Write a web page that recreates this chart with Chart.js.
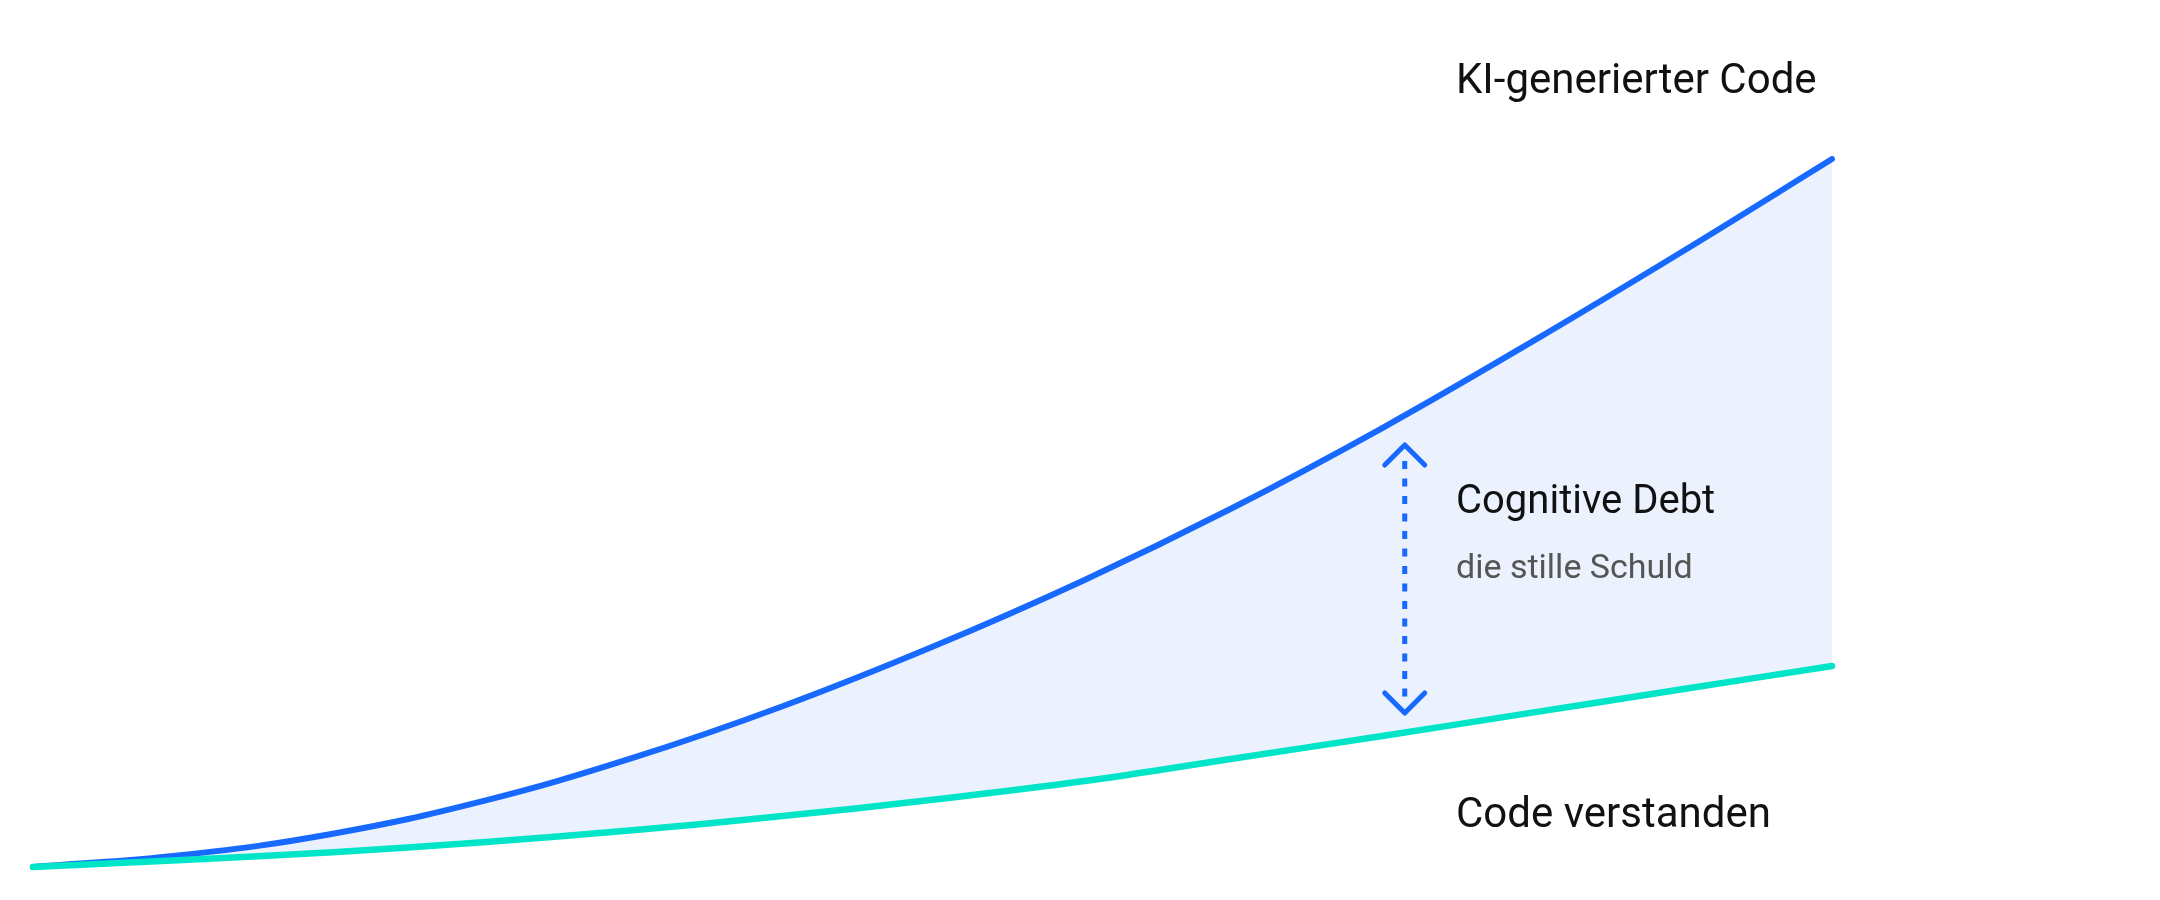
<!DOCTYPE html>
<html>
<head>
<meta charset="utf-8">
<script src="https://cdn.jsdelivr.net/npm/chart.js@4/dist/chart.umd.min.js"></script>
<style>
  html, body { margin: 0; padding: 0; background: #fff; }
  #wrap { width: 2160px; height: 900px; }
</style>
</head>
<body>
<div id="wrap"><canvas id="debtChart" width="2160" height="900"></canvas></div>
<script>
// ---------- data ----------
const steps = ['0', '1', '2', '3', '4', '5', '6', '7', '8', '9', '10', '11', '12'];
const aiCode = [0, 1.7, 4.7, 9.3, 15.4, 22.7, 31.1, 40.4, 50.7, 62.0, 74.2, 86.9, 100];
const understood = [0, 1.0, 2.1, 3.5, 5.2, 7.2, 9.5, 12.1, 15.3, 18.5, 21.8, 25.1, 28.4];

const BLUE = '#1769ff';
const TEAL = '#00e5c8';
const FILL = '#ebf1fd';

// labels + arrow, drawn on top of the chart
const overlay = {
  id: 'overlay',
  afterDraw(chart) {
    const c = chart.ctx;
    const ax = chart.scales.x.getPixelForValue(9.15);
    c.save();

    // double-headed dotted arrow
    c.strokeStyle = BLUE;
    c.lineWidth = 5;
    c.setLineDash([8, 9.5]);
    c.beginPath();
    c.moveTo(ax, 461);
    c.lineTo(ax, 702);
    c.stroke();
    c.setLineDash([]);
    c.lineCap = 'round';
    c.lineJoin = 'round';
    c.beginPath();
    c.moveTo(ax - 20, 465); c.lineTo(ax, 445); c.lineTo(ax + 20, 465);
    c.moveTo(ax - 20, 693); c.lineTo(ax, 713); c.lineTo(ax + 20, 693);
    c.stroke();

    // texts
    const tx = 1456;
    c.textAlign = 'left';
    c.textBaseline = 'alphabetic';
    c.fillStyle = '#111';
    c.font = '42px Roboto';
    c.fillText('KI-generierter Code', tx, 93);
    c.fillText('Code verstanden', tx, 827);
    c.font = '40px Roboto';
    c.fillText('Cognitive Debt', tx, 513);
    c.fillStyle = '#555';
    c.font = '34px Roboto';
    c.fillText('die stille Schuld', tx, 578);
    c.restore();
  }
};

new Chart(document.getElementById('debtChart'), {
  type: 'line',
  data: {
    labels: steps,
    datasets: [
      { label: 'Code verstanden', data: understood, borderColor: TEAL, borderWidth: 6.5,
        fill: false },
      { label: 'KI-generierter Code', data: aiCode, borderColor: BLUE, borderWidth: 6,
        fill: { target: '-1' }, backgroundColor: FILL }
    ]
  },
  options: {
    responsive: false,
    animation: false,
    devicePixelRatio: 1,
    layout: { padding: { left: 33, right: 328, top: 159, bottom: 33 } },
    elements: {
      point: { radius: 0, hoverRadius: 0 },
      line: { tension: 0.4, borderCapStyle: 'round', borderJoinStyle: 'round' }
    },
    datasets: { line: { clip: false } },
    scales: {
      x: { display: false, offset: false },
      y: { display: false, min: 0, max: 100 }
    },
    plugins: {
      legend: { display: false },
      tooltip: { enabled: false },
      filler: { drawTime: 'beforeDatasetsDraw' }
    }
  },
  plugins: [overlay]
});
</script>
</body>
</html>
